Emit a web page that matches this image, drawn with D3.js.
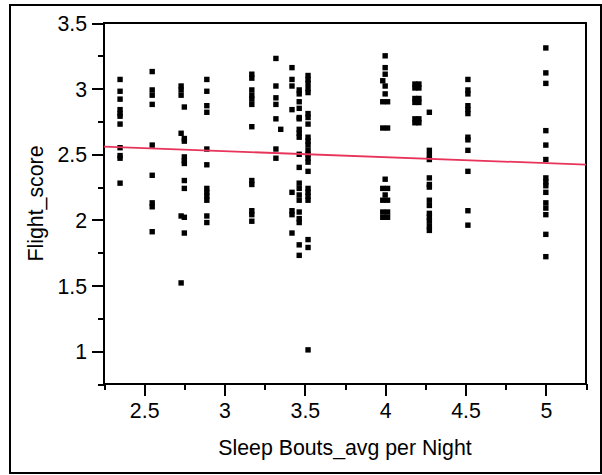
<!DOCTYPE html>
<html>
<head>
<meta charset="utf-8">
<script src="https://cdn.jsdelivr.net/npm/d3@7"></script>
<style>
  html, body { margin: 0; padding: 0; background: #fff; }
  svg { display: block; }
  text { font-family: Arial, "Liberation Sans", sans-serif; fill: #000; }
</style>
</head>
<body>
<svg id="chart" width="602" height="475"></svg>
<script>
// Sleep bouts (average per night) for each column of observations
const boutsColumns = [2.35, 2.55, 2.73, 2.75, 2.89, 3.17, 3.32, 3.35, 3.42, 3.465, 3.52,
                      3.985, 4.0, 4.015, 4.185, 4.21, 4.275, 4.515, 5.0];

// Flight scores observed at each sleep-bout value (same order as boutsColumns)
const flightScores = [
  [3.07, 2.98, 2.92, 2.84, 2.81, 2.79, 2.73, 2.55, 2.49, 2.47, 2.28],
  [3.13, 2.99, 2.95, 2.88, 2.57, 2.34, 2.13, 2.10, 1.91],
  [3.02, 2.99, 2.95, 2.66, 2.03, 1.52],
  [2.86, 2.62, 2.60, 2.48, 2.45, 2.43, 2.30, 2.24, 2.02, 1.90],
  [3.07, 2.98, 2.87, 2.82, 2.54, 2.42, 2.24, 2.21, 2.18, 2.15, 2.03, 1.98],
  [3.11, 3.08, 2.99, 2.95, 2.92, 2.88, 2.71, 2.30, 2.27, 2.07, 2.04, 1.99],
  [3.23, 3.02, 2.93, 2.88, 2.77, 2.54, 2.47],
  [2.69],
  [3.16, 3.07, 3.02, 2.84, 2.21, 2.07, 2.04, 1.90],
  [2.99, 2.96, 2.90, 2.85, 2.78, 2.77, 2.69, 2.66, 2.63, 2.50, 2.40, 2.28, 2.24, 2.19, 2.15, 2.06, 2.01, 1.98, 1.81, 1.73],
  [3.10, 3.07, 3.04, 3.00, 2.97, 2.81, 2.78, 2.73, 2.63, 2.60, 2.57, 2.53, 2.50, 2.47, 2.44, 2.37, 2.24, 2.21, 2.18, 2.15, 1.85, 1.79, 1.01],
  [3.06, 2.90, 2.70, 2.24, 2.15, 2.06, 2.02],
  [3.25, 3.16, 3.11, 3.02, 2.96, 2.31, 2.19],
  [2.90, 2.70, 2.24, 2.15, 2.06, 2.02],
  [3.035, 3.005, 2.925, 2.895, 2.77, 2.74],
  [3.035, 3.005, 2.925, 2.895, 2.77, 2.74],
  [2.82, 2.53, 2.49, 2.46, 2.32, 2.27, 2.25, 2.15, 2.11, 2.05, 2.02, 1.99, 1.95, 1.92],
  [3.07, 2.99, 2.96, 2.87, 2.84, 2.81, 2.63, 2.61, 2.53, 2.37, 2.07, 1.96],
  [3.31, 3.12, 3.04, 2.68, 2.57, 2.46, 2.32, 2.29, 2.26, 2.21, 2.13, 2.09, 2.04, 1.89, 1.72]
];

// Linear fit: Flight_score = intercept + slope * bouts
const fitIntercept = 2.661;
const fitSlope = -0.0457;

// Axis ticks
const xMajorTicks = [2.5, 3, 3.5, 4, 4.5, 5];
const xMinorTicks = [2.25, 2.75, 3.25, 3.75, 4.25, 4.75, 5.25];
const yMajorTicks = [1, 1.5, 2, 2.5, 3, 3.5];
const yMinorTicks = [0.75, 1.25, 1.75, 2.25, 2.75, 3.25];
const xDomain = [2.25, 5.25];
const yDomain = [0.75, 3.5];

const xTitle = "Sleep Bouts_avg per Night";
const yTitle = "Flight_score";

const svg = d3.select("#chart");
const FONT = "21.3px";

const plot = { left: 104, right: 586, top: 23, bottom: 384 };

const x = d3.scaleLinear().domain(xDomain).range([plot.left, plot.right]);
const y = d3.scaleLinear().domain(yDomain).range([plot.bottom, plot.top]);

// Outer frame
svg.append("rect")
  .attr("x", 10).attr("y", 5)
  .attr("width", 591).attr("height", 468)
  .attr("fill", "none").attr("stroke", "#000").attr("stroke-width", 2);

// Axes (ticks only; frame drawn separately)
function styleAxis(g) {
  g.select(".domain").remove();
  g.selectAll(".tick line").attr("stroke", "#000").attr("stroke-width", 2)
    .attr("shape-rendering", "crispEdges");
  g.selectAll(".tick text").style("font-size", FONT)
    .style("font-family", 'Arial, "Liberation Sans", sans-serif').attr("fill", "#000");
}

svg.append("g")
  .attr("transform", `translate(0,${plot.bottom})`)
  .call(d3.axisBottom(x).tickValues(xMinorTicks).tickSize(6).tickFormat(""))
  .call(styleAxis);

svg.append("g")
  .attr("transform", `translate(0,${plot.bottom})`)
  .call(d3.axisBottom(x).tickValues(xMajorTicks).tickSize(12).tickPadding(6).tickFormat(d3.format("")))
  .call(styleAxis)
  .call(g => g.selectAll(".tick text").attr("y", 34).attr("dy", null));

svg.append("g")
  .attr("transform", `translate(${plot.left},0)`)
  .call(d3.axisLeft(y).tickValues(yMinorTicks).tickSize(6).tickFormat(""))
  .call(styleAxis);

svg.append("g")
  .attr("transform", `translate(${plot.left},0)`)
  .call(d3.axisLeft(y).tickValues(yMajorTicks).tickSize(12).tickFormat(d3.format("")))
  .call(styleAxis)
  .call(g => g.selectAll(".tick text").attr("x", -17).attr("dy", "0.36em"));

// Plot frame
svg.append("rect")
  .attr("x", plot.left).attr("y", plot.top)
  .attr("width", plot.right - plot.left).attr("height", plot.bottom - plot.top)
  .attr("fill", "none").attr("stroke", "#000").attr("stroke-width", 2)
  .attr("shape-rendering", "crispEdges");

// Points
const points = [];
boutsColumns.forEach((bx, i) => flightScores[i].forEach(v => points.push({ bx, v })));

const S = 5.4;
svg.append("g").selectAll("rect")
  .data(points)
  .join("rect")
  .attr("x", d => x(d.bx) - S / 2)
  .attr("y", d => y(d.v) - S / 2)
  .attr("width", S).attr("height", S)
  .attr("fill", "#000");

// Fitted line
svg.append("line")
  .attr("x1", x(xDomain[0])).attr("y1", y(fitIntercept + fitSlope * xDomain[0]))
  .attr("x2", x(xDomain[1])).attr("y2", y(fitIntercept + fitSlope * xDomain[1]))
  .attr("stroke", "#e8345a").attr("stroke-width", 1.8);

// Axis titles
svg.append("text")
  .attr("x", (plot.left + plot.right) / 2).attr("y", 455)
  .attr("text-anchor", "middle").style("font-size", FONT)
  .text(xTitle);

svg.append("text")
  .attr("transform", `translate(43,${(plot.top + plot.bottom) / 2}) rotate(-90)`)
  .attr("text-anchor", "middle").style("font-size", FONT)
  .text(yTitle);
</script>
</body>
</html>
